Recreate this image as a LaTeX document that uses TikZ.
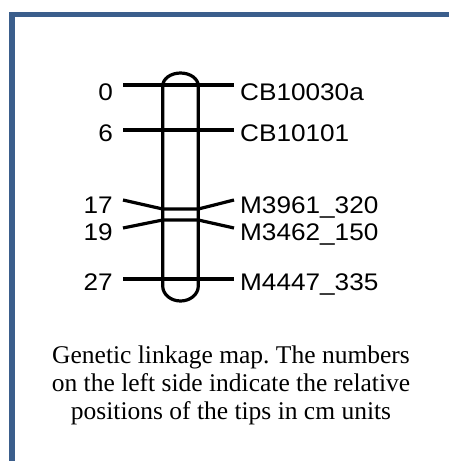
\documentclass[tikz,border=0pt]{standalone}
\usepackage{fontspec}
\setmainfont{Liberation Serif}
\newfontfamily\labfont[FakeStretch=1.09]{Liberation Sans}
\definecolor{framecol}{RGB}{59,94,140}
\frenchspacing
\begin{document}
\begin{tikzpicture}[x=1pt,y=-1pt,
  mk/.style={line width=3.2pt,black,line join=round},
  chrom/.style={line width=3.2pt,black},
  numlab/.style={anchor=base east,inner sep=0pt,font=\labfont\fontsize{24}{24}\selectfont},
  mklab/.style={anchor=base west,inner sep=0pt,font=\labfont\fontsize{24}{24}\selectfont},
  captext/.style={align=center,inner sep=0pt,font=\fontsize{25.5}{28}\selectfont}]
\useasboundingbox (0,0) rectangle (449,461);
\fill[white] (0,0) rectangle (449,461);
% frame
\draw[line width=5.5pt,framecol] (12,461) -- (12,14.5) -- (449,14.5);
% marker line end points
\coordinate (a0) at (123,85);   \coordinate (b0) at (234,85);
\coordinate (a6) at (123,130);  \coordinate (b6) at (234,130);
\coordinate (a17) at (123,200); \coordinate (b17) at (234,200);
\coordinate (a19) at (123,228); \coordinate (b19) at (234,228);
\coordinate (a27) at (123,279); \coordinate (b27) at (234,279);
\coordinate (cl17) at (162.7,209); \coordinate (cr17) at (198.3,209);
\coordinate (cl19) at (162.7,220); \coordinate (cr19) at (198.3,220);
% chromosome
\draw[chrom] (162.7,286) -- (162.7,86) arc[start angle=180,end angle=360,x radius=17.8,y radius=13]
  -- (198.3,286) arc[start angle=0,end angle=180,x radius=17.8,y radius=15] -- cycle;
% markers
\draw[mk] (a0) -- (b0);
\draw[mk] (a6) -- (b6);
\draw[mk] (a17) -- (cl17) -- (cr17) -- (b17);
\draw[mk] (a19) -- (cl19) -- (cr19) -- (b19);
\draw[mk] (a27) -- (b27);
% labels
\node[numlab] (n0) at (113,100.5) {0};
\node[numlab] (n6) at (113,141.5) {6};
\node[numlab] (n17) at (113,213.5) {17};
\node[numlab] (n19) at (113,240) {19};
\node[numlab] (n27) at (113,290.5) {27};
\node[mklab] (m0) at (240,100.5) {CB10030a};
\node[mklab] (m6) at (240,141.5) {CB10101};
\node[mklab] (m17) at (240,213.5) {M3961\_320};
\node[mklab] (m19) at (240,240) {M3462\_150};
\node[mklab] (m27) at (240,290.5) {M4447\_335};
% caption
\node[captext,anchor=base] (caption) at (231,419) {Genetic linkage map. The numbers\\on the left side indicate the relative\\positions of the tips in cm units};
\end{tikzpicture}
\end{document}
